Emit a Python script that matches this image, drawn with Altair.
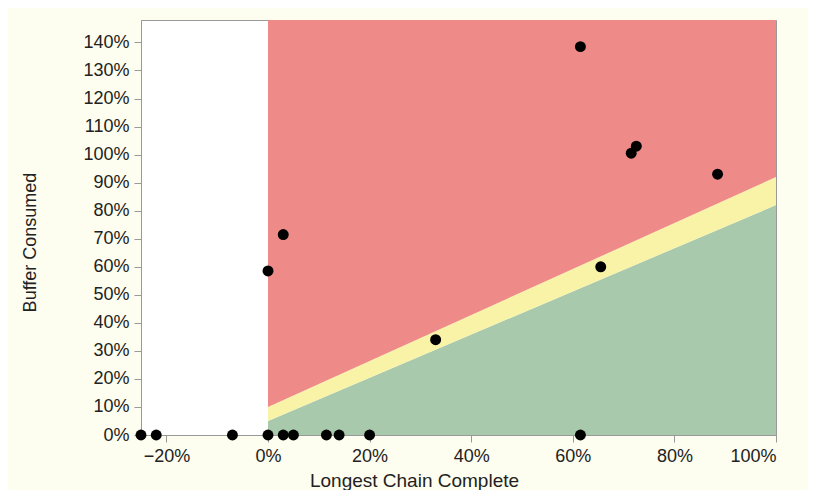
import altair as alt
import pandas as pd

# Points
chain_complete = [-0.25, -0.22, -0.07, 0.0, 0.03, 0.05, 0.115, 0.14, 0.20, 0.615,
                  0.0, 0.03, 0.33, 0.655, 0.615, 0.715, 0.725, 0.885]
buffer_consumed = [0.0, 0.0, 0.0, 0.0, 0.0, 0.0, 0.0, 0.0, 0.0, 0.0,
                   0.585, 0.715, 0.34, 0.60, 1.385, 1.005, 1.03, 0.93]

# Zone boundaries
band_x = [0.0, 1.0]
green_top = [0.05, 0.82]
yellow_top = [0.10, 0.92]
red_top = [1.48, 1.48]

x_ticks = [-0.2, 0.0, 0.2, 0.4, 0.6, 0.8, 1.0]
y_ticks = [0.0, 0.1, 0.2, 0.3, 0.4, 0.5, 0.6, 0.7, 0.8, 0.9, 1.0, 1.1, 1.2, 1.3, 1.4]

pts = pd.DataFrame({"x": chain_complete, "y": buffer_consumed})
bands = pd.DataFrame({"x": band_x, "g": green_top, "yl": yellow_top, "r": red_top})

xs = alt.Scale(domain=[-0.25, 1.0], nice=False, zero=False)
ys = alt.Scale(domain=[0, 1.48], nice=False)

xax = alt.Axis(values=x_ticks, format=".0%", title="Longest Chain Complete",
               grid=False, labelOverlap=False, titleX=273, titleY=51,
               titleBaseline="alphabetic", titleAlign="center", titleFontSize=19)
yax = alt.Axis(values=y_ticks, format=".0%", title="Buffer Consumed",
               grid=False, labelOverlap=False, titleX=-111, titleY=222,
               titleAngle=-90, titleBaseline="middle", titleAlign="center",
               titleFontSize=18)

base = alt.Chart(bands)
green = base.mark_area(color="#A8C9AC", opacity=1).encode(
    x=alt.X("x:Q", scale=xs, axis=xax),
    y=alt.Y("g:Q", scale=ys, axis=yax),
    y2=alt.datum(0),
)
yellow = base.mark_area(color="#F9F3A8", opacity=1).encode(
    x=alt.X("x:Q", scale=xs, axis=xax), y=alt.Y("yl:Q", scale=ys, axis=yax), y2="g:Q"
)
red = base.mark_area(color="#EE8B88", opacity=1).encode(
    x=alt.X("x:Q", scale=xs, axis=xax), y=alt.Y("r:Q", scale=ys, axis=yax), y2="yl:Q"
)
points = alt.Chart(pts).mark_point(filled=True, color="black", opacity=1,
                                   size=120, shape="circle").encode(
    x=alt.X("x:Q", scale=xs, axis=xax), y=alt.Y("y:Q", scale=ys, axis=yax)
)

chart = alt.layer(green, yellow, red, points).properties(
    width=635, height=415,
    autosize="none",
    padding={"left": 133, "top": 12, "right": 32, "bottom": 55},
    background="#FDFDF0",
).configure_view(
    fill="white", stroke="#999999", strokeWidth=1
).configure_axis(
    labelFont="Liberation Sans", labelFontSize=18, labelColor="#222222",
    titleFont="Liberation Sans", titleFontWeight="normal",
    titleColor="#222222", domainColor="#999999", tickColor="#999999",
    tickSize=7, labelPadding=5
)

chart.save("out.html", embed_options={"renderer": "svg", "actions": False})
